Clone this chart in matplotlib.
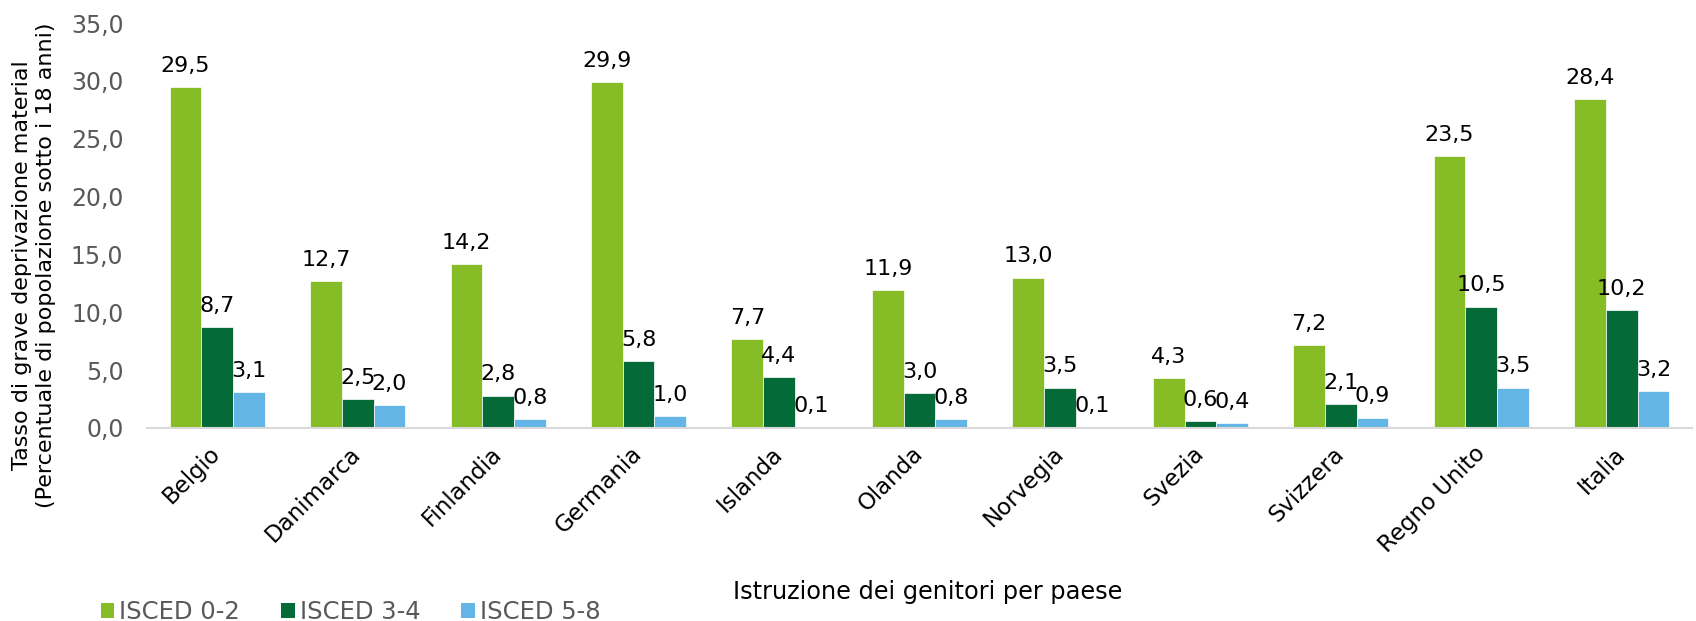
import matplotlib
matplotlib.use("Agg")
import matplotlib.pyplot as plt
import numpy as np
from matplotlib.patches import Patch

categories = ["Belgio", "Danimarca", "Finlandia", "Germania", "Islanda", "Olanda",
              "Norvegia", "Svezia", "Svizzera", "Regno Unito", "Italia"]
isced_02 = [29.5, 12.7, 14.2, 29.9, 7.7, 11.9, 13.0, 4.3, 7.2, 23.5, 28.4]
isced_34 = [8.7, 2.5, 2.8, 5.8, 4.4, 3.0, 3.5, 0.6, 2.1, 10.5, 10.2]
isced_58 = [3.1, 2.0, 0.8, 1.0, 0.1, 0.8, 0.1, 0.4, 0.9, 3.5, 3.2]
series_names = ["ISCED 0-2", "ISCED 3-4", "ISCED 5-8"]
colors = ["#86BC25", "#046A38", "#62B5E5"]
yticks = [0, 5, 10, 15, 20, 25, 30, 35]

W, H = 1696, 621
fig = plt.figure(figsize=(W / 100, H / 100), dpi=100)
ax = fig.add_axes([147 / W, (H - 428) / H, (1692 - 147) / W, (428 - 23) / H])

x = np.arange(len(categories))
bw = 0.226
for i, (vals, col) in enumerate(zip([isced_02, isced_34, isced_58], colors)):
    pos = x + (i - 1) * bw
    ax.bar(pos, vals, width=bw, color=col, edgecolor="white", linewidth=0.5, zorder=2)
    for xp, v in zip(pos, vals):
        ax.annotate(f"{v:.1f}".replace(".", ","), (xp, v), xytext=(0, 8),
                    textcoords="offset points", ha="center", va="bottom",
                    fontsize=16, color="black")

ax.set_xlim(-0.5, len(categories) - 0.5)
ax.set_ylim(0, 35)
ax.set_yticks(yticks)
ax.set_yticklabels([f"{t:.1f}".replace(".", ",") for t in yticks], fontsize=17, color="#595959")
ax.set_xticks(x)
ax.set_xticklabels(categories, rotation=45, ha="right", va="center", rotation_mode="anchor",
                   fontsize=16.5, color="black")
ax.tick_params(axis="y", length=0, pad=17)
ax.tick_params(axis="x", length=0, pad=16)
for s in ["top", "right", "left"]:
    ax.spines[s].set_visible(False)
ax.spines["bottom"].set_color("#D9D9D9")
ax.spines["bottom"].set_linewidth(1.5)

fig.text(34 / W, (H - 265) / H,
         "Tasso di grave deprivazione material\n(Percentuale di popolazione sotto i 18 anni)",
         rotation=90, ha="center", va="center", fontsize=16, color="black", linespacing=1.2)
fig.text(928 / W, (H - 592) / H, "Istruzione dei genitori per paese",
         ha="center", va="center", fontsize=17.3, color="black")

handles = [Patch(facecolor=c, edgecolor="none") for c in colors]
leg = fig.legend(handles, series_names, loc="lower left", bbox_to_anchor=(84 / W, -0.032),
                 ncol=3, frameon=False, fontsize=17.5, handlelength=0.55, handleheight=0.55,
                 handletextpad=0.2, columnspacing=1.7, borderpad=0.2, labelcolor="#595959")

fig.savefig("out.png", dpi=100)
